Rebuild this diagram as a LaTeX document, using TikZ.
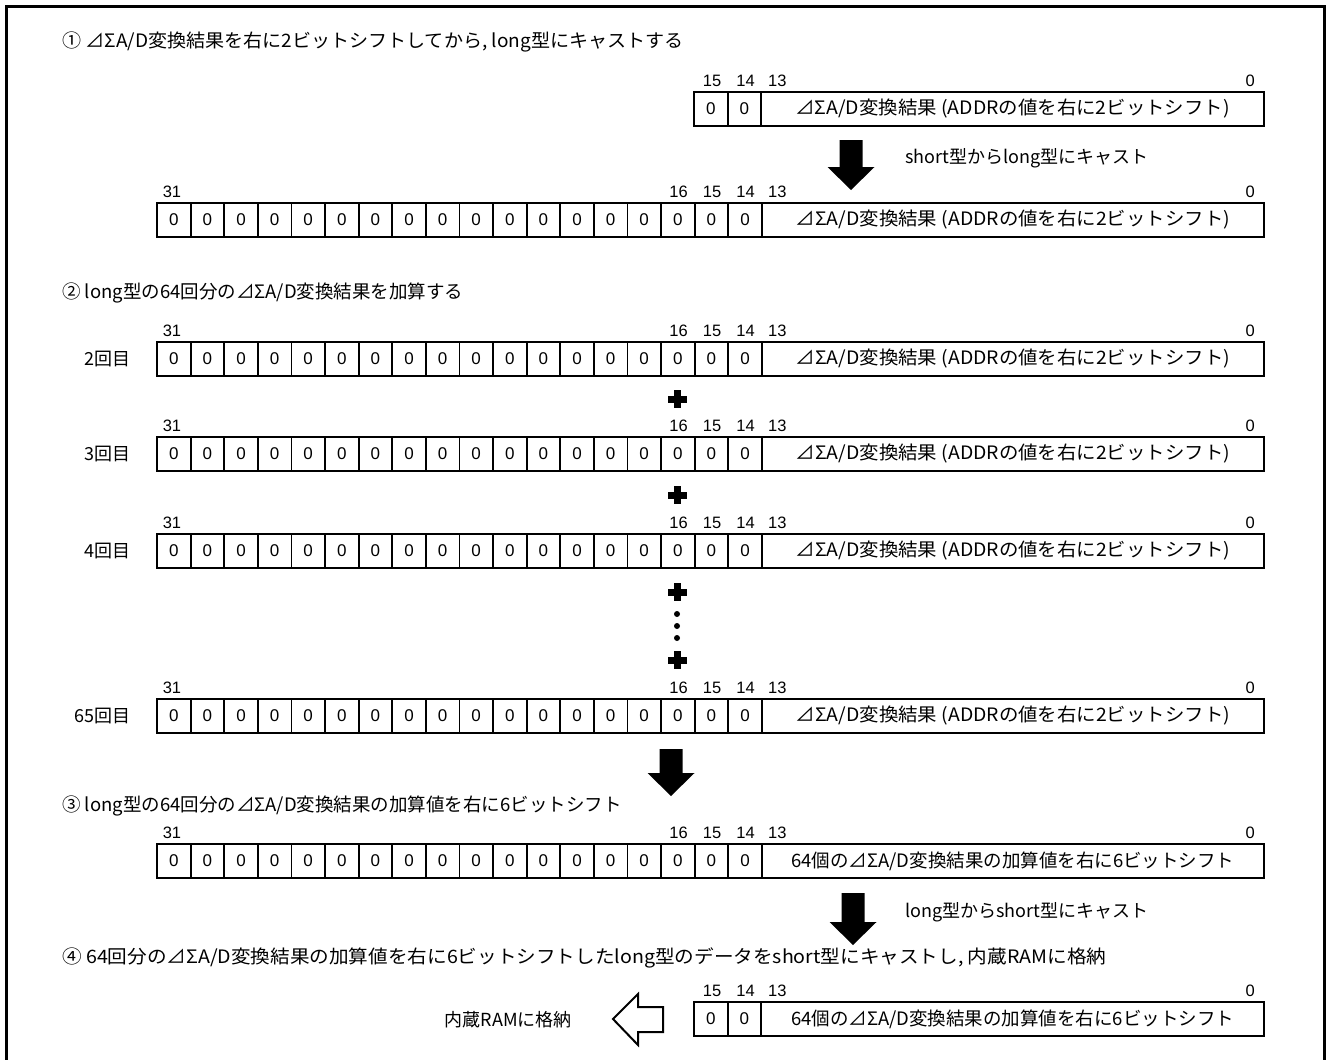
\documentclass[tikz,border=0pt]{standalone}
\usepackage{fontspec}
\setmainfont{Liberation Sans}
\newfontfamily\jp{Noto Sans CJK JP}
\newcommand\fldA{\scalebox{1.05}[1]{⊿ΣA/D変換結果 (ADDRの値を右に2ビットシフト)}}
\newcommand\fldB{64個の⊿ΣA/D変換結果の加算値を右に6ビットシフト}
\newcommand\longreg[3]{%
  \foreach \i in {1,...,18} \node[cell] (#1c\i) at ({157+(\i-0.5)*33.6},{#2+17}) {0};
  \node[field] (#1f) at ({(761.8+1264)/2},{#2+17}) {#3};
  \node[lbl] (#1l31) at (172,{#2-11}) {31};
  \node[lbl] (#1l16) at (678.6,{#2-11}) {16};
  \node[lbl] (#1l15) at (712,{#2-11}) {15};
  \node[lbl] (#1l14) at (745.6,{#2-11}) {14};
  \node[lbl,anchor=west] (#1l13) at (768,{#2-11}) {13};
  \node[lbl,anchor=east] (#1l0) at (1255,{#2-11}) {0};
}
\newcommand\shortreg[3]{%
  \node[cell] (#1c1) at (710.8,{#2+17}) {0};
  \node[cell] (#1c2) at (744.4,{#2+17}) {0};
  \node[field,minimum width=502.8pt] (#1f) at ({(761.2+1264)/2},{#2+17}) {#3};
  \node[lbl] (#1l15) at (712,{#2-11}) {15};
  \node[lbl] (#1l14) at (745.6,{#2-11}) {14};
  \node[lbl,anchor=west] (#1l13) at (768,{#2-11}) {13};
  \node[lbl,anchor=east] (#1l0) at (1255,{#2-11}) {0};
}
\newcommand\bigarrow[3]{% x, top, tip
  \fill ({#1-11.5},#2) -- ({#1+11.5},#2) -- ({#1+11.5},{#3-23}) -- ({#1+23.5},{#3-23})
    -- (#1,#3) -- ({#1-23.5},{#3-23}) -- ({#1-11.5},{#3-23}) -- cycle;
}
\newcommand\plussign[2]{%
  \fill ({#1-3.5},{#2-9}) rectangle ({#1+3.5},{#2+9});
  \fill ({#1-9.5},{#2-3.5}) rectangle ({#1+9.5},{#2+3.5});
}
\begin{document}
\begin{tikzpicture}[x=1pt,y=-1pt,
  cell/.style={draw,line width=1.8pt,minimum width=33.6pt,minimum height=34pt,inner sep=0pt,
    font=\fontsize{17}{17}\selectfont},
  field/.style={cell,minimum width=502.2pt,font=\jp\fontsize{18.5}{18.5}\selectfont},
  lbl/.style={inner sep=0pt,font=\fontsize{16.5}{16.5}\selectfont},
  txt/.style={inner sep=0pt,anchor=west,font=\jp\fontsize{18.5}{18.5}\selectfont},
  rtxt/.style={txt,anchor=east,font=\jp\fontsize{18}{18}\selectfont}]
\useasboundingbox (0,0) rectangle (1326,1060);
\begin{scope}
\clip (0,0) rectangle (1326,1060);
\draw[line width=3pt] (6,1080) -- (6,6) -- (1324.5,6) -- (1324.5,1080);
\end{scope}
% section 1
\node[txt] (t1) at (62,42) {\scalebox{1.03}[1]{① ⊿ΣA/D変換結果を右に2ビットシフトしてから, long型にキャストする}};
\shortreg{ra}{92}{\fldA}
\bigarrow{851}{140}{190}
\node[rtxt,anchor=west] (castA) at (905,158) {short型からlong型にキャスト};
\longreg{rb}{203}{\fldA}
% section 2
\node[txt] (t2) at (62,293) {② long型の64回分の⊿ΣA/D変換結果を加算する};
\longreg{r2}{342}{\fldA}
\node[rtxt] (n2) at (131,359) {2回目};
\plussign{677}{399}
\longreg{r3}{437}{\fldA}
\node[rtxt] (n3) at (131,454) {3回目};
\plussign{677}{495}
\longreg{r4}{534}{\fldA}
\node[rtxt] (n4) at (131,551) {4回目};
\plussign{677}{592}
\fill (677,614) circle (3pt) (677,626) circle (3pt) (677,638) circle (3pt);
\plussign{677}{660}
\longreg{r65}{699}{\fldA}
\node[rtxt] (n65) at (131,716) {65回目};
\bigarrow{671}{749}{796}
% section 3
\node[txt] (t3) at (62,806) {③ long型の64回分の⊿ΣA/D変換結果の加算値を右に6ビットシフト};
\longreg{rc}{844}{\fldB}
\bigarrow{853}{893}{945}
\node[rtxt,anchor=west] (castB) at (905,912) {long型からshort型にキャスト};
% section 4
\node[txt] (t4) at (62,958) {\scalebox{1.06}[1]{④ 64回分の⊿ΣA/D変換結果の加算値を右に6ビットシフトしたlong型のデータをshort型にキャストし, 内蔵RAMに格納}};
\shortreg{rd}{1002}{\fldB}
\draw[line width=2pt,line join=miter] (613,1019) -- (638,994) -- (638,1007) -- (663,1007) -- (663,1032)
  -- (638,1032) -- (638,1045) -- cycle;
\node[rtxt] (ram) at (572,1020) {内蔵RAMに格納};
\end{tikzpicture}
\end{document}
